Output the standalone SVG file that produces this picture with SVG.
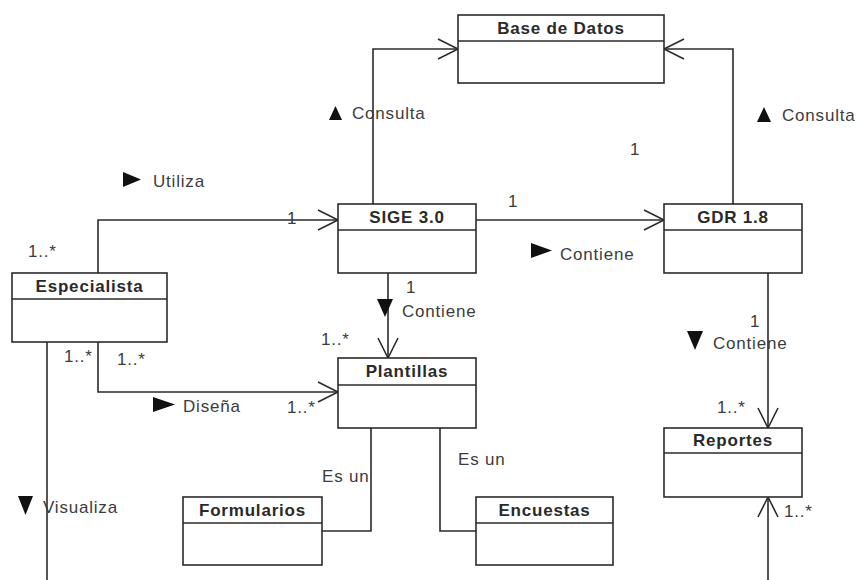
<svg xmlns="http://www.w3.org/2000/svg" width="856" height="580" viewBox="0 0 856 580">
  <style>
    .box { fill: #ffffff; stroke: #2b2b2b; stroke-width: 1.6; }
    .div { stroke: #2b2b2b; stroke-width: 1.6; }
    .title { font-family: "Liberation Sans", Arial, sans-serif; font-size: 17px; font-weight: bold; fill: #2a2a2a; text-anchor: middle; letter-spacing: 0.8px; }
    .lbl { font-family: "Liberation Sans", Arial, sans-serif; font-size: 17px; fill: #3c3c3c; letter-spacing: 0.8px; }
    .edge { fill: none; stroke: #2b2b2b; stroke-width: 1.6; }
    .dir { fill: #111111; }
  </style>
  <defs>
    <marker id="open" markerUnits="userSpaceOnUse" markerWidth="24" markerHeight="24" viewBox="-22 -12 24 24" refX="0" refY="0" orient="auto">
      <path d="M-20,-10 L0,0 L-20,10" fill="none" stroke="#2b2b2b" stroke-width="1.6"/>
    </marker>
  </defs>
  <rect width="856" height="580" fill="#ffffff"/>

  <!-- connectors -->
  <g id="connectors">
    <path class="edge" d="M373,204 V49 H458" marker-end="url(#open)"/>
    <path class="edge" d="M733,204 V49 H664" marker-end="url(#open)"/>
    <path class="edge" d="M98,273 V220 H338" marker-end="url(#open)"/>
    <path class="edge" d="M476,220 H664" marker-end="url(#open)"/>
    <path class="edge" d="M388,273 V358" marker-end="url(#open)"/>
    <path class="edge" d="M98,342 V392 H338" marker-end="url(#open)"/>
    <path class="edge" d="M47,342 V580"/>
    <path class="edge" d="M768,273 V428" marker-end="url(#open)"/>
    <path class="edge" d="M768,580 V497" marker-end="url(#open)"/>
    <path class="edge" d="M371,428 V531 H322"/>
    <path class="edge" d="M440,428 V531 H476"/>

    <!-- association names with direction triangles -->
    <polygon class="dir" points="329,120 335.5,106 342,120"/>
    <text class="lbl" x="352" y="119">Consulta</text>
    <polygon class="dir" points="757,122 764,107 771,122"/>
    <text class="lbl" x="782" y="121">Consulta</text>
    <polygon class="dir" points="123,172 141,179.5 123,187"/>
    <text class="lbl" x="153" y="187">Utiliza</text>
    <polygon class="dir" points="531,243 552,250.5 531,258"/>
    <text class="lbl" x="560" y="260">Contiene</text>
    <polygon class="dir" points="377,299 393,299 385,317"/>
    <text class="lbl" x="402" y="317">Contiene</text>
    <polygon class="dir" points="687,331 703,331 695,350"/>
    <text class="lbl" x="713" y="349">Contiene</text>
    <polygon class="dir" points="153,397 175,404.5 153,412"/>
    <text class="lbl" x="183" y="412">Diseña</text>
    <polygon class="dir" points="18,496 33,496 25.5,515"/>
    <text class="lbl" x="43" y="513">Visualiza</text>
    <text class="lbl" x="322" y="482">Es un</text>
    <text class="lbl" x="458" y="465">Es un</text>

    <!-- multiplicities -->
    <text class="lbl" x="630" y="155">1</text>
    <text class="lbl" x="287" y="224">1</text>
    <text class="lbl" x="28" y="257">1..*</text>
    <text class="lbl" x="508" y="207">1</text>
    <text class="lbl" x="406" y="293">1</text>
    <text class="lbl" x="321" y="345">1..*</text>
    <text class="lbl" x="750" y="327">1</text>
    <text class="lbl" x="717" y="413">1..*</text>
    <text class="lbl" x="64" y="362">1..*</text>
    <text class="lbl" x="117" y="365">1..*</text>
    <text class="lbl" x="287" y="413">1..*</text>
    <text class="lbl" x="784" y="517">1..*</text>
  </g>

  <!-- classes -->
  <g id="base-de-datos">
    <rect class="box" x="458" y="15" width="206" height="68"/>
    <line class="div" x1="458" y1="41" x2="664" y2="41"/>
    <text class="title" x="561" y="34">Base de Datos</text>
  </g>
  <g id="sige">
    <rect class="box" x="338" y="204" width="138" height="69"/>
    <line class="div" x1="338" y1="230" x2="476" y2="230"/>
    <text class="title" x="407" y="223">SIGE 3.0</text>
  </g>
  <g id="gdr">
    <rect class="box" x="664" y="204" width="138" height="69"/>
    <line class="div" x1="664" y1="230" x2="802" y2="230"/>
    <text class="title" x="733" y="223">GDR 1.8</text>
  </g>
  <g id="especialista">
    <rect class="box" x="12" y="273" width="155" height="69"/>
    <line class="div" x1="12" y1="299" x2="167" y2="299"/>
    <text class="title" x="89.5" y="292">Especialista</text>
  </g>
  <g id="plantillas">
    <rect class="box" x="338" y="358" width="138" height="70"/>
    <line class="div" x1="338" y1="385" x2="476" y2="385"/>
    <text class="title" x="407" y="377">Plantillas</text>
  </g>
  <g id="reportes">
    <rect class="box" x="664" y="428" width="138" height="69"/>
    <line class="div" x1="664" y1="453" x2="802" y2="453"/>
    <text class="title" x="733" y="446">Reportes</text>
  </g>
  <g id="formularios">
    <rect class="box" x="183" y="497" width="139" height="68"/>
    <line class="div" x1="183" y1="523" x2="322" y2="523"/>
    <text class="title" x="252.5" y="516">Formularios</text>
  </g>
  <g id="encuestas">
    <rect class="box" x="476" y="497" width="137" height="68"/>
    <line class="div" x1="476" y1="523" x2="613" y2="523"/>
    <text class="title" x="544.5" y="516">Encuestas</text>
  </g>
</svg>
